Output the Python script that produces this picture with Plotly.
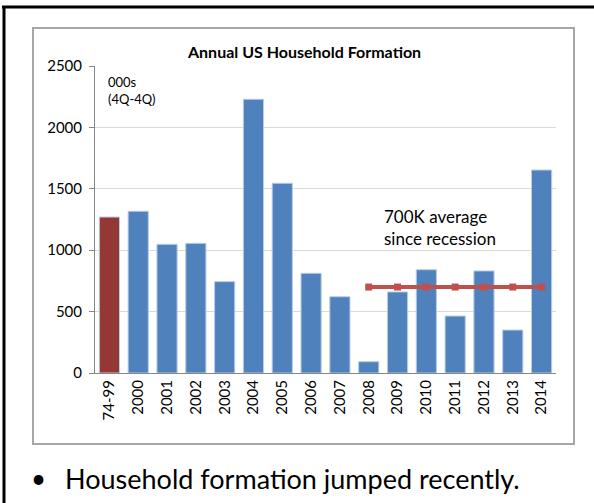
import plotly.graph_objects as go

# Household formation, thousands (4Q-4Q)
categories = ["74-99", "2000", "2001", "2002", "2003", "2004", "2005", "2006",
              "2007", "2008", "2009", "2010", "2011", "2012", "2013", "2014"]
formation = [1270, 1317, 1048, 1056, 744, 2229, 1545, 812,
             621, 92, 660, 841, 464, 831, 350, 1653]
bar_colors = ["#953735"] + ["#4F81BD"] * (len(categories) - 1)

# Post-recession average line
avg_years = ["2008", "2009", "2010", "2011", "2012", "2013", "2014"]
avg_values = [700, 700, 700, 700, 700, 700, 700]

W, H = 594, 503
L, R, T, B = 95, 556, 66, 373  # plot area in pixels

def px(x):
    return (x - L) / (R - L)

def py(y):
    return (B - y) / (B - T)

FONT = "Lato"

fig = go.Figure()
fig.add_trace(go.Bar(
    x=categories, y=formation,
    marker=dict(color=bar_colors, line=dict(color="#B9CDE5", width=1)),
    width=0.7, showlegend=False, hoverinfo="x+y",
))
fig.add_trace(go.Scatter(
    x=avg_years, y=avg_values, mode="lines+markers",
    line=dict(color="#C0504D", width=4),
    marker=dict(symbol="square", size=7, color="#C0504D"),
    showlegend=False,
))

shapes = [
    # outer slide frame
    dict(type="line", xref="paper", yref="paper", x0=px(2), x1=px(W + 2),
         y0=py(7), y1=py(7), line=dict(color="black", width=3)),
    dict(type="line", xref="paper", yref="paper", x0=px(4), x1=px(4),
         y0=py(6), y1=py(H + 2), line=dict(color="black", width=3)),
    # chart box
    dict(type="rect", xref="paper", yref="paper", x0=px(33), x1=px(574),
         y0=py(444), y1=py(28), line=dict(color="#A6A6A6", width=2)),
]

annotations = [
    dict(text="<b>Annual US Household Formation</b>", xref="paper", yref="paper",
         x=px(304), y=py(52), showarrow=False, xanchor="center", yanchor="middle",
         font=dict(family=FONT, size=16, color="black")),
    dict(text="000s<br>(4Q-4Q)", xref="paper", yref="paper",
         x=px(106), y=py(72), showarrow=False, xanchor="left", yanchor="top",
         align="left", font=dict(family=FONT, size=13, color="black")),
    dict(text="700K average<br>since recession", xref="paper", yref="paper",
         x=px(382), y=py(204), showarrow=False, xanchor="left", yanchor="top",
         align="left", font=dict(family=FONT, size=17, color="black")),
    dict(text="•", xref="paper", yref="paper",
         x=px(29), y=py(478), showarrow=False, xanchor="left", yanchor="middle",
         font=dict(family=FONT, size=26, color="black")),
    dict(text="Household formation jumped recently.", xref="paper", yref="paper",
         x=px(63), y=py(478), showarrow=False, xanchor="left", yanchor="middle",
         font=dict(family=FONT, size=27, color="black")),
]

fig.update_layout(
    width=W, height=H,
    margin=dict(l=L, r=W - R, t=T, b=H - B),
    paper_bgcolor="white", plot_bgcolor="white",
    font=dict(family=FONT, size=15, color="black"),
    shapes=shapes, annotations=annotations,
)
fig.update_xaxes(
    type="category", categoryorder="array", categoryarray=categories,
    tickangle=-90, showgrid=False, showline=True, linecolor="#868686", linewidth=1,
    ticks="", tickfont=dict(size=15), range=[-0.5, len(categories) - 0.5],
)
fig.update_yaxes(
    range=[0, 2500], dtick=500, showgrid=True, gridcolor="#D9D9D9", gridwidth=1,
    showline=True, linecolor="#868686", linewidth=1, ticks="outside", ticklen=5,
    tickcolor="#868686", tickfont=dict(size=15), zeroline=False,
    ticklabelstandoff=4,
)

fig.write_html("out.html")
